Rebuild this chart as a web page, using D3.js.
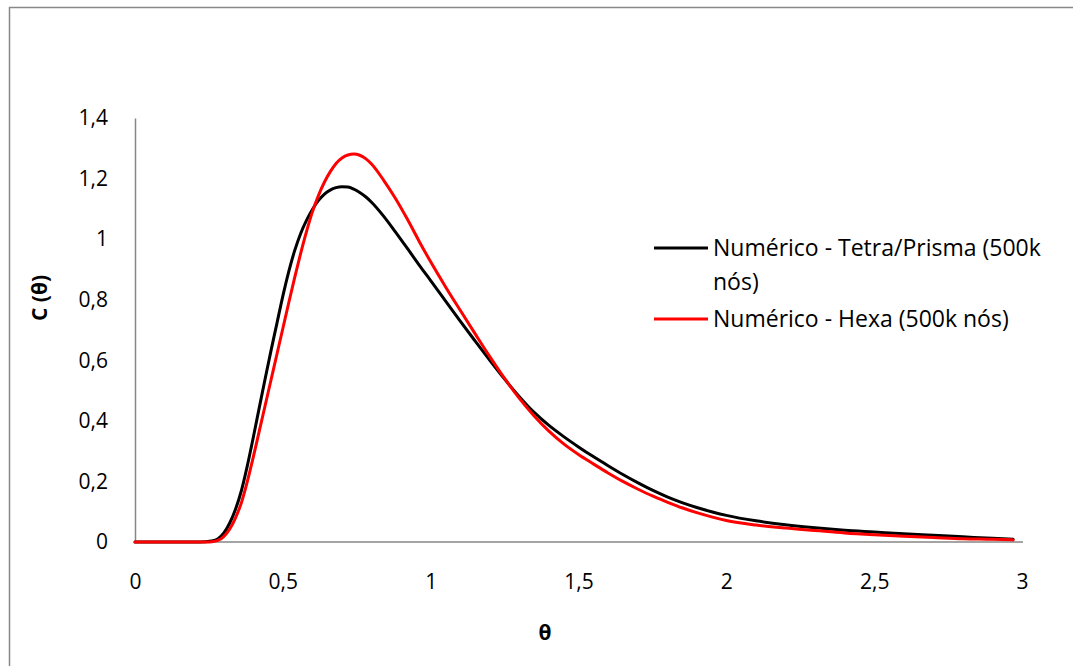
<!DOCTYPE html>
<html>
<head>
<meta charset="utf-8">
<script src="https://cdn.jsdelivr.net/npm/d3@7"></script>
<style>
  body { margin: 0; background: #fff; }
  svg text { font-family: "Open Sans", Lato, sans-serif; fill: #000; }
</style>
</head>
<body>
<div id="graph"></div>
<script>
// values
var theta = [0, 0.20, 0.24, 0.26, 0.28, 0.30, 0.32, 0.34, 0.36, 0.38, 0.40, 0.42, 0.44, 0.46, 0.48, 0.50, 0.52, 0.54, 0.56, 0.58, 0.60,
  0.62, 0.64, 0.66, 0.68, 0.70, 0.72, 0.74, 0.76, 0.78, 0.80, 0.84, 0.88, 0.92, 0.96, 1.00, 1.05, 1.10, 1.15, 1.20, 1.25,
  1.30, 1.35, 1.40, 1.45, 1.50, 1.55, 1.60, 1.65, 1.70, 1.75, 1.80, 1.85, 1.90, 1.95, 2.00, 2.10, 2.20, 2.30, 2.40, 2.50,
  2.60, 2.70, 2.80, 2.90, 2.97]
var tetra = [0, 0, 0.001, 0.003, 0.010, 0.029, 0.062, 0.108, 0.170, 0.252, 0.345, 0.442, 0.538, 0.632, 0.722, 0.812, 0.893, 0.962, 1.018, 1.062, 1.098,
  1.127, 1.148, 1.162, 1.170, 1.173, 1.172, 1.165, 1.154, 1.140, 1.122, 1.077, 1.025, 0.971, 0.916, 0.863, 0.796, 0.729, 0.664, 0.600, 0.538,
  0.480, 0.428, 0.385, 0.348, 0.314, 0.282, 0.252, 0.223, 0.196, 0.171, 0.149, 0.130, 0.114, 0.100, 0.088, 0.070, 0.057, 0.047, 0.039, 0.033,
  0.027, 0.022, 0.017, 0.012, 0.009]
var hexa = [0, 0, 0.000, 0.001, 0.005, 0.018, 0.042, 0.080, 0.130, 0.200, 0.280, 0.365, 0.450, 0.535, 0.620, 0.705, 0.790, 0.873, 0.952, 1.025, 1.090,
  1.143, 1.187, 1.222, 1.250, 1.268, 1.278, 1.281, 1.277, 1.266, 1.248, 1.196, 1.136, 1.068, 0.995, 0.925, 0.843, 0.765, 0.688, 0.612, 0.540,
  0.474, 0.416, 0.366, 0.324, 0.289, 0.258, 0.228, 0.200, 0.175, 0.152, 0.132, 0.113, 0.097, 0.083, 0.071, 0.056, 0.046, 0.038, 0.030, 0.024,
  0.019, 0.015, 0.011, 0.009, 0.007]
var xTicks = [0, 0.5, 1, 1.5, 2, 2.5, 3]
var yTicks = [0, 0.2, 0.4, 0.6, 0.8, 1, 1.2, 1.4]
var seriesNames = ['Numérico - Tetra/Prisma (500k|nós)', 'Numérico - Hexa (500k nós)']
var seriesColors = ['#000000', '#ff0000']

var W = 1073, H = 666
var svg = d3.select('#graph').append('svg').attr('width', W).attr('height', H)

// chart frame (only top/left edges in view)
svg.append('rect')
  .attr('x', 9.5).attr('y', 7.5).attr('width', 1100).attr('height', 700)
  .attr('fill', 'none').attr('stroke', '#888').attr('stroke-width', 1.5)

var x = d3.scaleLinear().domain([0, 3]).range([135, 1022])
var y = d3.scaleLinear().domain([0, 1.4]).range([542, 118])
var fmt = d => String(d).replace('.', ',')

var xAxis = svg.append('g').attr('transform', 'translate(0,' + y(0) + ')')
  .call(d3.axisBottom(x).tickValues(xTicks).tickSize(0).tickPadding(32).tickFormat(fmt))
var yAxis = svg.append('g').attr('transform', 'translate(' + x(0) + ',0)')
  .call(d3.axisLeft(y).tickValues(yTicks).tickSize(0).tickPadding(27).tickFormat(fmt))

;[xAxis, yAxis].forEach(g => {
  g.select('.domain').attr('stroke', '#868686').attr('stroke-width', 1.5)
  g.selectAll('text').style('font-size', '21px').attr('fill', '#000')
})
xAxis.select('.domain').attr('d', 'M' + x(0) + ',0H' + (x(3) + 1))

var rows = theta.map((t, i) => ({t: t, a: tetra[i], b: hexa[i]}))

var line = key => d3.line()
  .x(d => x(d.t))
  .y(d => y(d[key]))
  .curve(d3.curveMonotoneX)

svg.append('path').datum(rows)
  .attr('d', line('a')).attr('fill', 'none')
  .attr('stroke', seriesColors[0]).attr('stroke-width', 3).attr('stroke-linecap', 'round')
svg.append('path').datum(rows)
  .attr('d', line('b')).attr('fill', 'none')
  .attr('stroke', seriesColors[1]).attr('stroke-width', 3).attr('stroke-linecap', 'round')

// axis titles
svg.append('text').text('θ')
  .attr('x', 545).attr('y', 640).attr('text-anchor', 'middle')
  .style('font-size', '21px').style('font-weight', 'bold')
svg.append('text').text('C (θ)')
  .attr('transform', 'translate(47,298) rotate(-90)').attr('text-anchor', 'middle')
  .style('font-size', '21px').style('font-weight', 'bold')

// legend
var legY = [248, 319]
seriesNames.forEach((name, i) => {
  svg.append('line')
    .attr('x1', 654).attr('x2', 708).attr('y1', legY[i]).attr('y2', legY[i])
    .attr('stroke', seriesColors[i]).attr('stroke-width', 3)
  var t = svg.append('text').attr('x', 713).attr('y', legY[i] + 8).style('font-size', '23px')
  name.split('|').forEach((s, j) => {
    t.append('tspan').attr('x', 713).attr('dy', j ? 34 : 0).text(s)
  })
})
</script>
</body>
</html>
